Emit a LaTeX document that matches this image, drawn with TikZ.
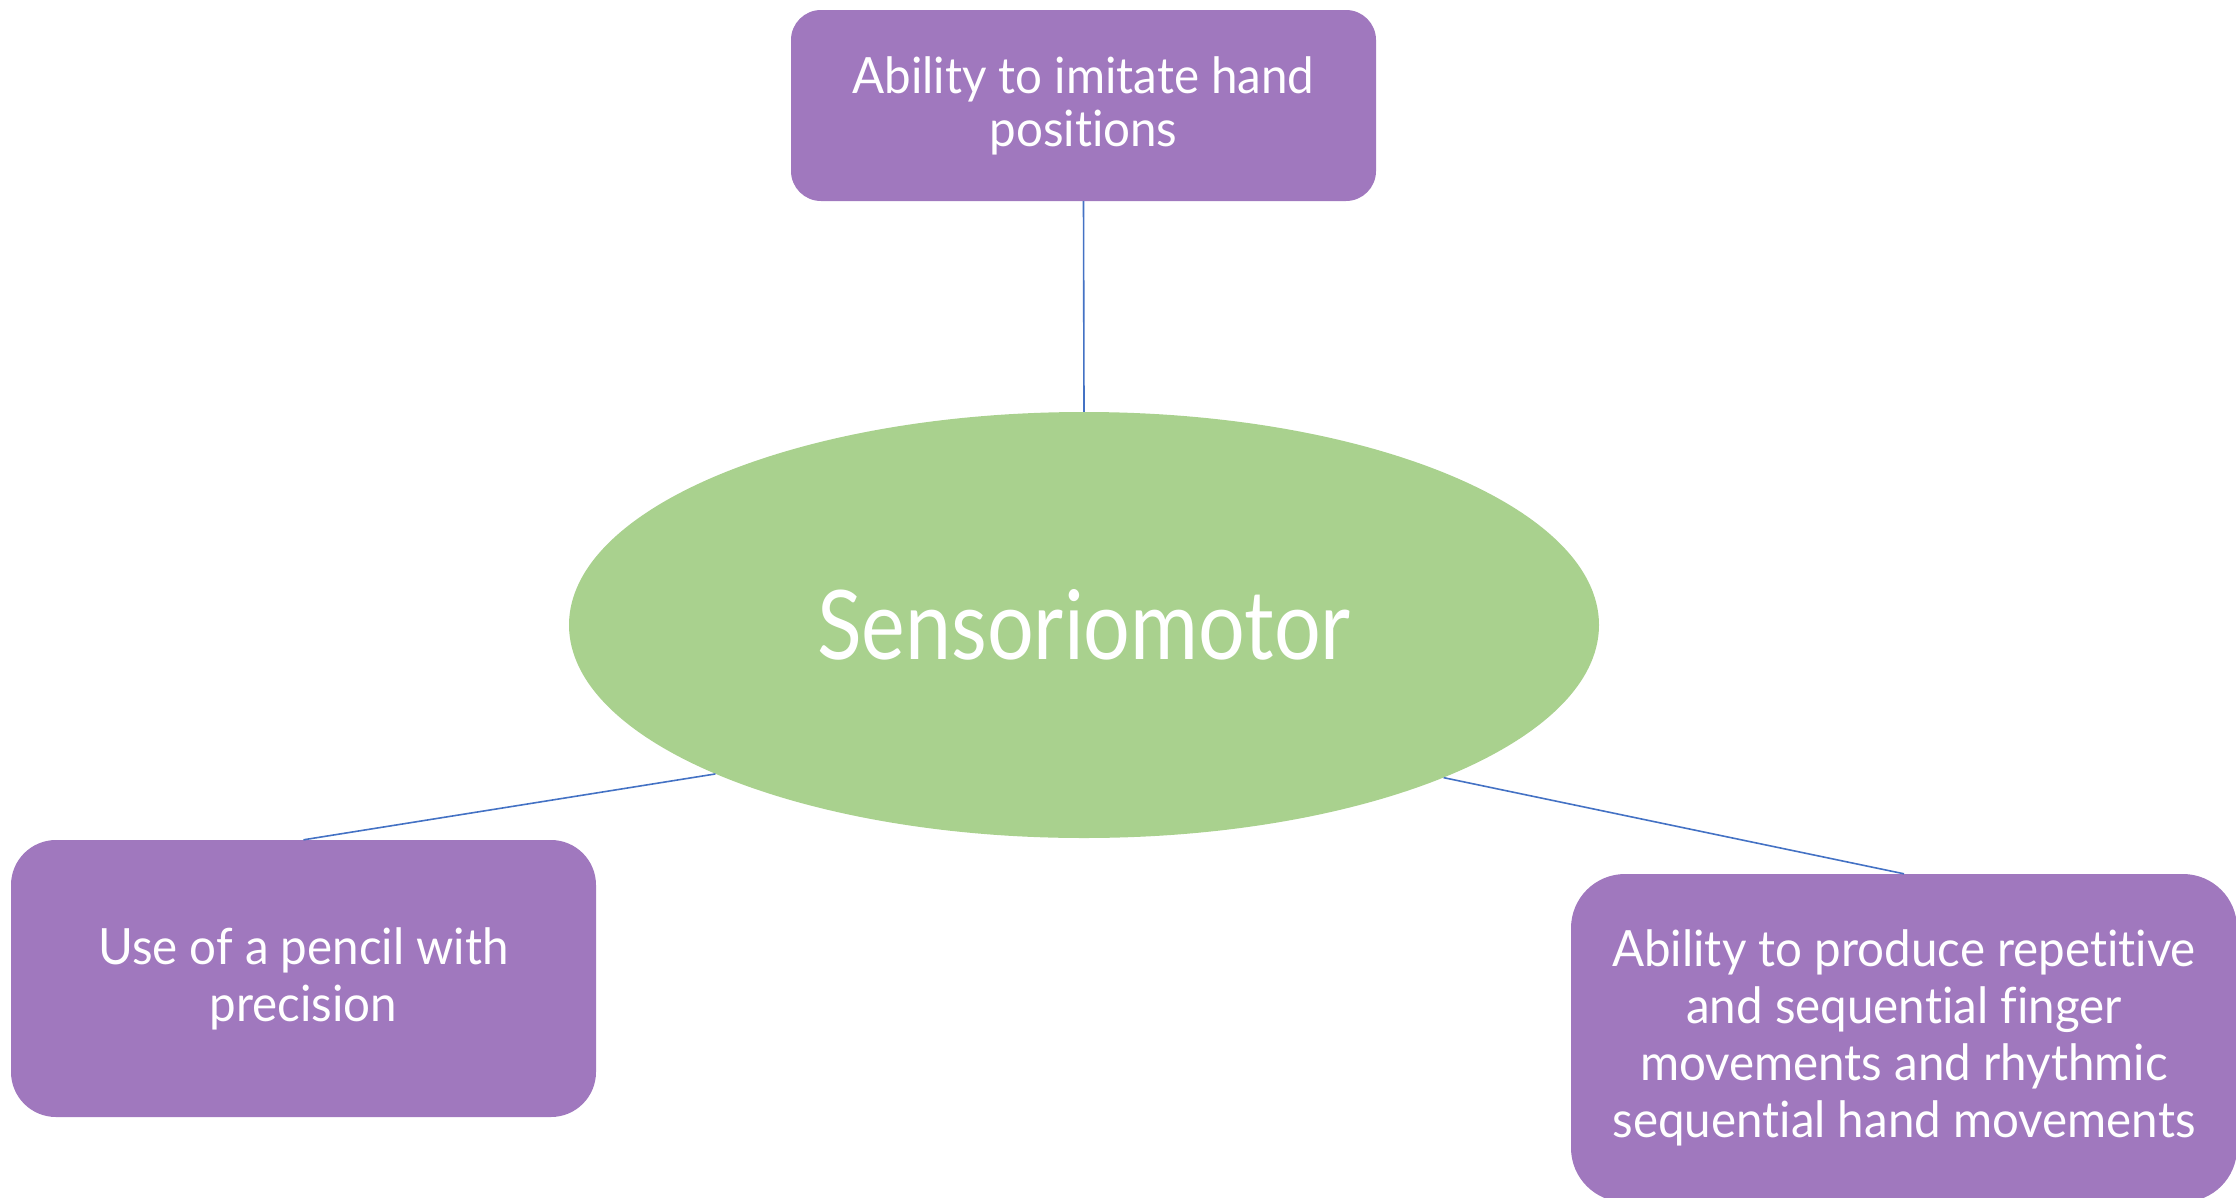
\documentclass[tikz,border=0pt]{standalone}
\usepackage{fontspec}
\setmainfont{Lato}[FakeStretch=0.95, Ligatures=NoCommon]
\newfontfamily\hubfont{Lato}[FakeStretch=0.86, Ligatures=NoCommon]
\usetikzlibrary{shapes.geometric}

\definecolor{boxpurple}{RGB}{160,120,190}
\definecolor{ellgreen}{RGB}{169,209,142}
\definecolor{linkblue}{RGB}{68,114,196}

\tikzset{
  leaf/.style={fill=boxpurple, draw=none, text=white, align=center,
    inner sep=0pt, font=\fontsize{50}{57}\selectfont},
  hub/.style={ellipse, fill=ellgreen, draw=none, text=white, inner sep=0pt,
    minimum width=1030pt, minimum height=426pt,
    font=\hubfont\fontsize{96}{110}\selectfont},
  link/.style={draw=linkblue, line width=1.6pt}
}

\begin{document}
\begin{tikzpicture}[x=1pt, y=-1pt]
  \useasboundingbox (0,0) rectangle (2236,1197);

  \node[hub] (hub) at (1084,625) {Sensoriomotor};

  \node[leaf, rounded corners=30pt, minimum width=585pt, minimum height=191pt,
    font=\fontsize{50}{53}\selectfont]
    (top) at (1083.5,105.5) {Ability to imitate hand\\positions};
  \node[leaf, rounded corners=45pt, minimum width=585pt, minimum height=277pt]
    (left) at (303.5,978.5) {Use of a pencil with\\precision};
  \node[leaf, rounded corners=54pt, minimum width=666pt, minimum height=328pt]
    (right) at (1904,1038) {Ability to produce repetitive\\and sequential finger\\movements and rhythmic\\sequential hand movements};

  \draw[link] (top.south) -- (hub.north);
  \draw[link] (left.north) -- (hub.202.7);
  \draw[link] (right.north) -- (hub.337.3);
\end{tikzpicture}
\end{document}
